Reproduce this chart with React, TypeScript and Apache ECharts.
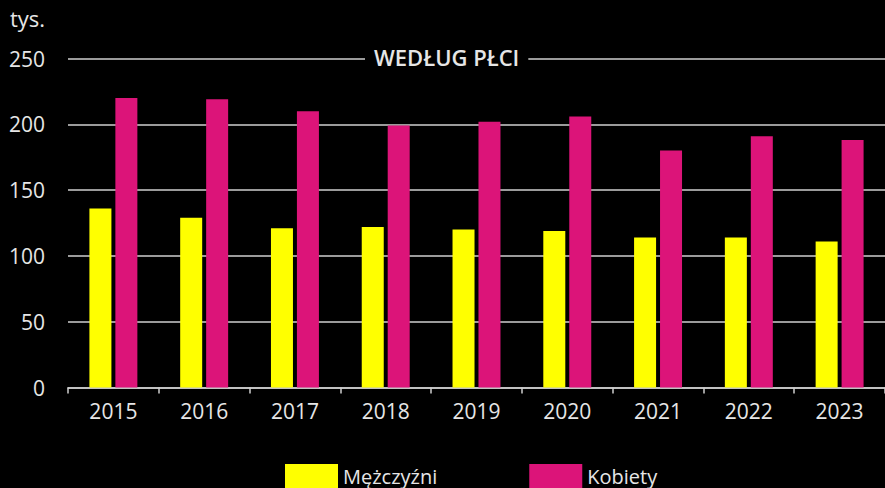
import React, { useEffect, useRef } from "react";
import * as echarts from "echarts";

const years = ["2015", "2016", "2017", "2018", "2019", "2020", "2021", "2022", "2023"];
const men = [136, 129, 121, 122, 120, 119, 114, 114, 111];
const women = [220, 219, 210, 199, 202, 206, 180, 191, 188];
const seriesNames = ["Mężczyźni", "Kobiety"];
const unitLabel = "tys.";
const titleText = "WEDŁUG PŁCI";

const FONT = "'Open Sans', 'Noto Sans', sans-serif";
const TEXT = "#e6e6e6";
const GRID = "#cfcfcf";

export default function App() {
  const ref = useRef<HTMLDivElement>(null);
  useEffect(() => {
    document.body.style.margin = "0";
    document.body.style.background = "#000";
    const chart = echarts.init(ref.current!, null, { renderer: "svg" });
    chart.setOption({
      animation: false,
      backgroundColor: "#000",
      textStyle: { fontFamily: FONT },
      grid: { left: 68, right: 0, top: 58.5, bottom: 100.5, containLabel: false },
      title: {
        text: titleText,
        left: 365,
        top: 44,
        padding: [2, 9, 2, 9],
        backgroundColor: "#000",
        textStyle: { color: TEXT, fontSize: 22, fontWeight: 600, fontFamily: FONT },
        z: 10,
      },
      graphic: [
        {
          type: "text",
          left: 10,
          top: 7,
          style: { text: unitLabel, fill: TEXT, fontSize: 22, fontFamily: FONT },
        },
      ],
      legend: {
        left: 285,
        top: 464,
        padding: 0,
        itemWidth: 53,
        itemHeight: 24,
        itemGap: 92,
        itemTextGap: 5,
        icon: "rect",
        textStyle: { color: TEXT, fontSize: 20, lineHeight: 20, fontFamily: FONT },
        data: seriesNames,
      },
      xAxis: {
        type: "category",
        data: years,
        axisLine: { lineStyle: { color: GRID, width: 1.5 } },
        axisTick: { show: true, length: 6, alignWithLabel: false, lineStyle: { color: GRID, width: 1.5 } },
        axisLabel: { color: TEXT, fontSize: 21, margin: 13, fontFamily: FONT },
      },
      yAxis: {
        type: "value",
        min: 0,
        max: 250,
        interval: 50,
        axisLine: { show: false },
        axisTick: { show: false },
        axisLabel: { color: TEXT, fontSize: 21, margin: 23, fontFamily: FONT },
        splitLine: { lineStyle: { color: GRID, width: 1.5 } },
      },
      series: [
        {
          name: seriesNames[0],
          type: "bar",
          data: men,
          barWidth: 22,
          barGap: "18%",
          itemStyle: { color: "#ffff00" },
        },
        {
          name: seriesNames[1],
          type: "bar",
          data: women,
          barWidth: 22,
          itemStyle: { color: "#dc1479" },
        },
      ],
    });
    return () => chart.dispose();
  }, []);
  return <div ref={ref} style={{ position: "absolute", left: 0, top: 0, width: 885, height: 488 }} />;
}
